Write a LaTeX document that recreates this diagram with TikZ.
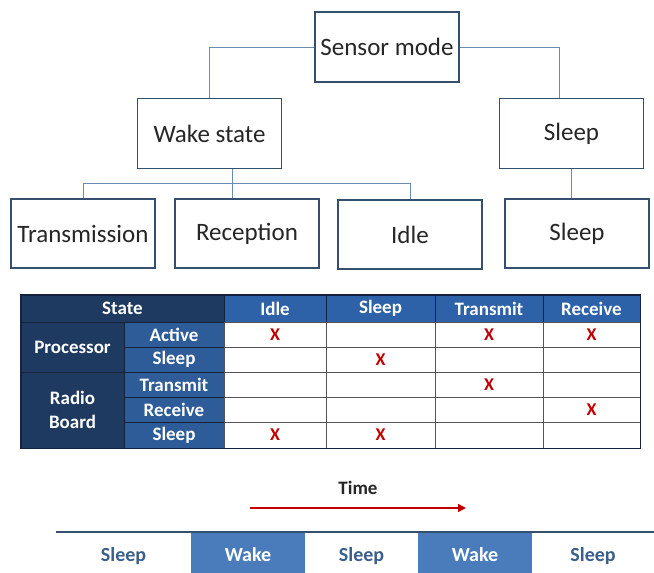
\documentclass[tikz,border=0pt]{standalone}
\usepackage{fontspec}
\setmainfont{Carlito}
\usetikzlibrary{arrows.meta,calc}
\definecolor{boxline}{HTML}{34506E}
\definecolor{conn}{HTML}{6A8CB3}
\definecolor{navy}{HTML}{1F3A60}
\definecolor{cellline}{HTML}{13233B}
\definecolor{midblue}{HTML}{2E5C98}
\definecolor{hdrblue}{HTML}{2D62A8}
\definecolor{wakeblue}{HTML}{4A7CBB}
\definecolor{sleeptxt}{HTML}{3A5F8A}
\definecolor{xred}{HTML}{C00000}
\definecolor{gridc}{HTML}{555555}
\begin{document}
\begin{tikzpicture}[x=1pt,y=-1pt,
  treebox/.style={draw=boxline, line width=1.6pt, minimum width=144pt, minimum height=70pt, inner sep=0pt, font=\fontsize{25}{28}\selectfont, text=black!85},
  conline/.style={draw=conn, line width=1pt},
  tcell/.style={draw=cellline, line width=0.8pt, inner sep=0pt, font=\bfseries\fontsize{19}{21}\selectfont, text=white},
  bodycell/.style={draw=gridc, line width=0.6pt, inner sep=0pt, fill=white},
  xmark/.style={font=\bfseries\fontsize{18}{20}\selectfont, text=xred},
  seglabel/.style={inner sep=0pt, minimum height=41pt, text height=20pt, text depth=2pt, font=\bfseries\fontsize{20}{22}\selectfont}
]
\fill[white] (0,0) rectangle (654,573);
\useasboundingbox (0,0) rectangle (654,573);

% ---- tree ----
\node[treebox] (sensor) at (387,47) {Sensor mode};
\node[treebox] (wake) at (209.5,133.5) {Wake state};
\node[treebox] (sleepA) at (571.5,133.5) {Sleep};
\node[treebox, minimum height=69pt] (trans) at (83,233.5) {Transmission};
\node[treebox, minimum height=69pt] (recep) at (247,233.5) {Reception};
\node[treebox, minimum height=69pt] (idle) at (410,234.5) {Idle};
\node[treebox, minimum height=69pt] (sleepB) at (577,233.5) {Sleep};
\coordinate (bus) at (232,183);

\draw[conline] (sensor.west) -| (wake.north);
\draw[conline] (sensor.east) -| ([xshift=-12pt]sleepA.north);
\draw[conline] ([xshift=22.5pt]wake.south) -- ([xshift=-15pt]recep.north);
\draw[conline] (trans.north) -- (trans.north |- bus) -- (idle.north |- bus) -- (idle.north);
\draw[conline] (sleepA.south) -- (sleepA.south |- sleepB.north);

% ---- table ----
\node[tcell, fill=navy, minimum width=203pt, minimum height=27pt] (hstate) at (122.5,308.5) {State};
\node[tcell, fill=hdrblue, minimum width=102pt, minimum height=27pt] (hidle) at (275,308.5) {Idle};
\node[tcell, fill=hdrblue, minimum width=109pt, minimum height=27pt] (hsleep) at (380.5,308.5) {Sleep};
\node[tcell, fill=hdrblue, minimum width=108pt, minimum height=27pt] (htrans) at (489,308.5) {Transmit};
\node[tcell, fill=hdrblue, minimum width=97pt, minimum height=27pt] (hrecv) at (591.5,308.5) {Receive};
\node[tcell, fill=navy, minimum width=103pt, minimum height=50pt] (proc) at (72.5,347) {Processor};
\node[tcell, fill=navy, minimum width=103pt, minimum height=76pt, align=center] (radio) at (72.5,410) {Radio\\[3pt]Board};
\node[tcell, fill=midblue, minimum width=100pt, minimum height=25pt] (sact) at (174,334.5) {Active};
\node[tcell, fill=midblue, minimum width=100pt, minimum height=25pt] (ssl1) at (174,359.5) {Sleep};
\node[tcell, fill=midblue, minimum width=100pt, minimum height=25pt] (stx) at (174,384.5) {Transmit};
\node[tcell, fill=midblue, minimum width=100pt, minimum height=25pt] (srx) at (174,409.5) {Receive};
\node[tcell, fill=midblue, minimum width=100pt, minimum height=26pt] (ssl2) at (174,435) {Sleep};
\foreach \cx/\w [count=\i] in {275/102,380.5/109,489/108,591.5/97}
  \foreach \cy/\h [count=\j] in {334.5/25,359.5/25,384.5/25,409.5/25,435/26}
    \node[bodycell, minimum width=\w pt, minimum height=\h pt] (b\i\j) at (\cx,\cy) {};
\node[xmark] at (b11) {X};
\node[xmark] at (b31) {X};
\node[xmark] at (b41) {X};
\node[xmark] at (b22) {X};
\node[xmark] at (b33) {X};
\node[xmark] at (b44) {X};
\node[xmark] at (b15) {X};
\node[xmark] at (b25) {X};
\draw[cellline, line width=1.2pt] (hstate.north west) rectangle (b45.south east);

% ---- timeline ----
\node[font=\bfseries\fontsize{19}{21}\selectfont, text=black!85] (time) at (358,488) {Time};
\coordinate (ta) at (250,508);
\coordinate (tb) at (466,508);
\draw[xred, line width=1.6pt, -{Triangle[length=8pt,width=8pt]}] (ta) -- (tb);
\node[seglabel, minimum width=135pt, text=sleeptxt] (s1) at (123.5,552.5) {Sleep};
\node[seglabel, minimum width=114pt, fill=wakeblue, text=white] (w1) at (248,552.5) {Wake};
\node[seglabel, minimum width=113pt, text=sleeptxt] (s2) at (361.5,552.5) {Sleep};
\node[seglabel, minimum width=114pt, fill=wakeblue, text=white] (w2) at (475,552.5) {Wake};
\node[seglabel, minimum width=122pt, text=sleeptxt] (s3) at (593,552.5) {Sleep};
\draw[draw=boxline, line width=1.8pt] (s1.north west) -- (s3.north east);
\end{tikzpicture}
\end{document}
